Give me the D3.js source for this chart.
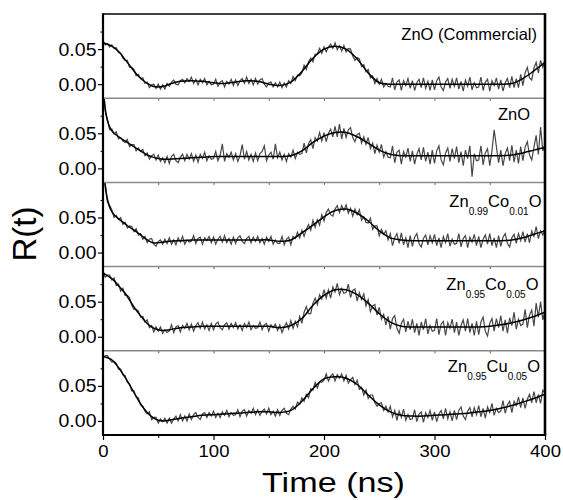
<!DOCTYPE html>
<html><head><meta charset="utf-8">
<script src="https://cdn.jsdelivr.net/npm/d3@7/dist/d3.min.js"></script>
<style>
body{margin:0;background:#fff}
text{fill:#000}
</style>
</head><body>
<svg id="chart" width="563" height="500"></svg>
<script>
// ---------------- data ----------------
const UNIT = 0.001; // all R(t) values below are given in units of 1e-3
const xTicks = [0, 100, 200, 300, 400];
const xMinorTicks = [50, 150, 250, 350];
const yTicks = [0, 0.05];
const yTickLabels = ["0.00", "0.05"];
const yMinorTicks = [0.025, 0.075];
const xTitle = "Time (ns)";
const yTitle = "R(t)";

// sample times of the measured traces (ns): one every 2 ns
const rawTime = d3.range(0, 401, 2);

// measured traces (R(t) x 1000), 0..400 ns
const rawCommercial = [
 62,56,58,53,56,51,52,45,44,37,
 34,34,24,24,21,12,14,8,9,1,
 3,-5,-1,0,-6,0,-7,-1,-7,1,
 -3,3,6,0,-1,5,7,2,8,4,
 10,1,7,-1,7,2,8,-1,4,-1,
 0,7,-3,3,5,-4,4,0,7,-2,
 6,-2,5,8,1,10,1,7,-1,8,
 0,6,8,0,-4,2,3,-4,2,-4,
 3,-5,2,-4,5,1,11,5,13,12,
 16,27,21,32,37,32,43,43,51,44,
 53,46,53,57,51,59,49,55,47,55,
 46,51,50,40,34,38,36,25,28,18,
 21,9,12,1,8,0,7,-4,1,-3,
 -4,9,-8,3,6,-9,5,-2,8,-6,
 5,-9,2,7,-5,9,-6,4,-9,6,
 -8,5,10,-4,-9,3,8,-6,7,-3,
 9,-7,4,-10,6,-3,10,-8,2,-5,
 -4,10,-9,3,7,-10,5,-2,9,-7,
 6,-10,2,8,-5,11,-5,8,-5,14,
 -2,16,24,9,6,23,31,16,34,24,
 33];

const rawZnO = [
 124,82,70,55,56,49,52,42,44,39,
 37,41,31,34,34,25,29,24,27,18,
 22,13,18,20,12,19,10,15,8,17,
 7,17,20,11,8,16,20,11,20,13,
 21,10,19,9,20,14,23,11,18,13,
 14,24,11,19,35,10,21,16,23,12,
 21,10,18,34,13,24,12,20,10,22,
 11,21,24,32,11,19,23,13,35,15,
 23,12,20,10,21,16,26,14,23,20,
 21,36,22,35,41,28,44,39,51,39,
 51,38,50,56,45,60,45,63,42,57,
 44,55,58,44,38,48,50,36,45,34,
 44,28,36,21,33,23,34,16,24,16,
 15,32,8,23,26,6,24,16,29,10,
 25,6,20,28,12,30,10,23,6,26,
 7,25,32,12,5,22,29,10,28,14,
 31,8,24,4,26,14,32,-12,21,11,
 12,32,5,22,28,4,25,55,31,8,
 26,4,21,29,11,33,9,26,7,31,
 11,30,38,19,12,30,47,20,59,25,
 34];

const rawCo001 = [
 128,99,72,67,61,50,53,47,50,40,
 43,35,38,37,30,34,25,27,19,23,
 14,19,20,12,9,16,18,12,19,13,
 21,12,18,11,21,15,23,12,18,15,
 16,24,13,20,22,12,21,17,23,14,
 22,12,19,23,15,24,14,20,12,22,
 13,21,24,16,13,20,23,14,22,16,
 23,14,20,12,22,16,23,12,18,13,
 13,23,11,19,22,11,23,20,29,21,
 32,23,33,40,32,46,36,47,39,54,
 45,57,62,54,52,62,67,57,67,60,
 68,56,63,52,62,54,61,46,51,43,
 42,49,33,38,38,24,33,26,31,18,
 27,10,21,27,13,28,11,21,7,24,
 9,22,27,13,8,20,25,11,24,14,
 26,10,21,7,23,14,27,9,19,12,
 13,27,8,20,24,7,22,15,26,10,
 23,7,19,25,12,27,10,21,7,24,
 9,22,27,13,8,21,26,13,27,17,
 30,15,27,14,31,23,37,20,31,25,
 34];

const rawCo005 = [
 93,85,88,88,81,84,73,75,65,69,
 59,59,56,45,39,39,37,28,29,21,
 24,13,16,7,14,8,14,5,10,6,
 8,17,6,14,16,7,16,12,19,10,
 18,8,16,20,12,21,11,17,9,19,
 10,18,21,13,10,17,20,11,19,13,
 20,11,17,9,19,13,21,10,16,12,
 13,21,10,17,19,8,17,13,18,9,
 17,6,14,20,11,23,12,22,14,29,
 19,35,43,33,33,48,55,46,60,54,
 67,55,67,55,71,64,76,60,69,62,
 63,75,56,66,68,51,63,53,61,44,
 53,36,44,46,31,42,25,32,17,29,
 11,26,30,12,5,19,25,7,22,10,
 25,6,19,2,21,10,26,4,16,8,
 9,26,3,18,22,2,20,12,25,6,
 21,2,16,24,8,26,6,19,2,22,
 3,21,28,8,1,19,26,8,26,13,
 30,8,24,5,27,16,35,11,25,16,
 18,39,13,31,38,15,48,28,50,24,
 37];

const rawCu005 = [
 90,93,93,88,84,85,82,74,74,66,
 65,55,53,43,43,34,33,23,21,14,
 10,13,2,5,5,-3,3,-1,4,-3,
 4,-3,3,7,0,9,0,7,0,10,
 2,9,12,5,2,10,12,5,12,7,
 14,5,11,5,13,8,15,6,12,8,
 9,16,6,14,16,7,15,11,18,9,
 16,8,14,17,10,18,9,14,7,16,
 8,15,18,11,9,17,21,17,27,24,
 33,28,38,33,46,44,55,47,56,55,
 58,67,57,64,67,57,66,61,67,57,
 65,54,59,62,52,58,45,48,37,44,
 32,37,37,26,21,25,26,15,21,13,
 21,6,15,1,14,5,17,1,9,2,
 3,16,-1,10,13,-2,12,5,15,1,
 13,-1,10,15,3,18,3,13,0,15,
 2,15,20,7,2,14,19,6,19,9,
 22,6,18,4,20,12,25,8,18,12,
 14,29,11,23,28,12,28,22,34,19,
 33,18,31,38,26,42,26,38,25,44,
 40];

// fitted curves (R(t) x 1000) at these times (ns)
const fitTime = [0,2,4,7,10,15,20,25,30,35,40,45,50,55,60,
 70,80,90,100,110,120,130,140,150,160,
 170,180,190,200,210,220,230,240,250,260,
 270,280,290,300,310,320,330,340,350,360,
 370,380,390,400];
const fitCommercial = [59,58,57,55,52,45,35,25,15,7,1,-3,-4,-3,0,
 4,5,4,2,1,3,5,4,0,-2,
 3,18,37,50,54,50,36,16,2,0,
 0,0,0,0,0,0,0,0,0,0,
 1,8,19,31];
const fitZnO = [120,85,68,56,50,44,39,34,29,24,19,16,14,13,13,
 14,15,16,17,17,17,17,17,17,17,
 18,25,37,46,51,51,45,36,26,20,
 18,18,18,18,18,18,18,18,18,18,
 19,22,26,30];
const fitCo001 = [130,95,76,61,54,47,41,35,30,24,18,14,14,15,16,
 17,18,18,18,18,18,18,18,18,16,
 18,28,39,51,60,62,56,45,31,21,
 18,17,17,17,17,17,17,17,17,17,
 18,21,26,31];
const fitCo005 = [91,89,87,84,80,71,62,50,38,28,19,13,10,9,10,
 13,14,15,15,15,15,15,15,15,13,
 16,26,45,59,67,67,60,48,33,21,
 15,14,14,14,14,14,14,14,15,17,
 20,24,29,35];
const fitCu005 = [92,91,90,88,84,74,62,49,35,22,12,5,1,0,1,
 4,6,8,9,10,11,12,13,13,12,
 15,28,46,60,63,61,52,37,23,13,
 8,7,7,8,9,10,11,13,15,18,
 22,27,32,38];

// panel labels (parts; sub = subscript)
const panelLabels = [
 [{t:"ZnO (Commercial)"}],
 [{t:"ZnO"}],
 [{t:"Zn"},{t:"0.99",sub:true},{t:"Co"},{t:"0.01",sub:true},{t:"O"}],
 [{t:"Zn"},{t:"0.95",sub:true},{t:"Co"},{t:"0.05",sub:true},{t:"O"}],
 [{t:"Zn"},{t:"0.95",sub:true},{t:"Cu"},{t:"0.05",sub:true},{t:"O"}]
];
const rawSeries = [rawCommercial, rawZnO, rawCo001, rawCo005, rawCu005];
const fitSeries = [fitCommercial, fitZnO, fitCo001, fitCo005, fitCu005];

// ---------------- layout ----------------
const FONT = "'Liberation Sans', Arimo, Arial, Helvetica, sans-serif";
const plotLeft = 103, plotRight = 545, plotTop = 14, plotBottom = 435;
const nP = rawSeries.length;
const ph = (plotBottom - plotTop) / nP;
const labelRight = [537, 530, 541.5, 538.5, 540];
const labelDy = [25.7, 21.8, 24.3, 23.4, 20.9];

const svg = d3.select("#chart");
const defs = svg.append("defs");
const x = d3.scaleLinear().domain([0, 400]).range([plotLeft, plotRight]);
const yDomain = [-0.02, 0.10];

for (let i = 0; i < nP; i++) {
  const top = plotTop + i * ph;
  const y = d3.scaleLinear().domain(yDomain).range([top + ph, top]);

  defs.append("clipPath").attr("id", "clip" + i)
    .append("rect").attr("x", plotLeft).attr("y", top)
    .attr("width", plotRight - plotLeft).attr("height", ph);

  const g = svg.append("g").attr("clip-path", `url(#clip${i})`);
  g.append("path").datum(rawSeries[i])
    .attr("fill", "none").attr("stroke", "#474747").attr("stroke-width", 1.2)
    .attr("stroke-linejoin", "miter")
    .attr("d", d3.line().x((d, j) => x(rawTime[j])).y(d => y(d * UNIT)));
  g.append("path").datum(fitSeries[i])
    .attr("fill", "none").attr("stroke", "#000").attr("stroke-width", 1.5)
    .attr("d", d3.line().curve(d3.curveCatmullRom.alpha(0.5))
      .x((d, j) => x(fitTime[j])).y(d => y(d * UNIT)));

  // y axis: major ticks with labels
  const ay = svg.append("g").attr("transform", `translate(${plotLeft},0)`)
    .call(d3.axisLeft(y).tickValues(yTicks).tickSize(5).tickPadding(1.5)
      .tickFormat((d, k) => yTickLabels[k]));
  ay.attr("font-family", FONT);
  ay.select(".domain").remove();
  ay.selectAll(".tick line").attr("stroke", "#000").attr("stroke-width", 1.2);
  ay.selectAll("text").attr("font-size", 17.5).attr("font-family", FONT)
    .attr("textLength", 38).attr("lengthAdjust", "spacingAndGlyphs").attr("dy", "0.34em");
  // minor ticks
  const ayMin = svg.append("g").attr("transform", `translate(${plotLeft},0)`)
    .call(d3.axisLeft(y).tickValues(yMinorTicks).tickSize(2.5).tickFormat(""));
  ayMin.select(".domain").remove();
  ayMin.selectAll(".tick line").attr("stroke", "#000").attr("stroke-width", 1);

  // panel label
  const lt = svg.append("text").attr("x", labelRight[i]).attr("y", top + labelDy[i])
    .attr("text-anchor", "end").attr("font-size", 16.5).attr("font-family", FONT);
  let shifted = false;
  panelLabels[i].forEach(p => {
    const ts = lt.append("tspan").text(p.t);
    if (p.sub) { ts.attr("font-size", 10).attr("dy", 8.3); shifted = true; }
    else if (shifted) { ts.attr("dy", -8.3); shifted = false; }
  });

  // separators with small ticks
  if (i > 0) {
    const sg = svg.append("g").attr("transform", `translate(0,${top})`)
      .call(d3.axisBottom(x).tickValues(xTicks.concat(xMinorTicks).filter(v => v > 0 && v < 400))
        .tickSize(2.5).tickFormat(""));
    sg.select(".domain").remove();
    sg.selectAll(".tick line").attr("stroke", "#555").attr("stroke-width", 1);
    svg.append("line").attr("x1", plotLeft).attr("x2", plotRight)
      .attr("y1", top).attr("y2", top).attr("stroke", "#8a8a8a").attr("stroke-width", 1.5);
  }
}

// bottom x axis
const ax = svg.append("g").attr("transform", `translate(0,${plotBottom})`)
  .call(d3.axisBottom(x).tickValues(xTicks).tickSize(5).tickPadding(5));
ax.attr("font-family", FONT);
ax.select(".domain").remove();
ax.selectAll(".tick line").attr("stroke", "#000").attr("stroke-width", 1.2);
ax.selectAll("text").attr("font-size", 16.5).attr("font-family", FONT)
  .each(function(d) {
    const s = String(d);
    d3.select(this).attr("textLength", s.length * 10.3).attr("lengthAdjust", "spacingAndGlyphs");
  });
const axMin = svg.append("g").attr("transform", `translate(0,${plotBottom})`)
  .call(d3.axisBottom(x).tickValues(xMinorTicks).tickSize(3).tickFormat(""));
axMin.select(".domain").remove();
axMin.selectAll(".tick line").attr("stroke", "#000").attr("stroke-width", 1);

// frame
svg.append("line").attr("x1", plotLeft).attr("x2", plotRight).attr("y1", plotTop).attr("y2", plotTop)
  .attr("stroke", "#000").attr("stroke-width", 1.5);
svg.append("line").attr("x1", plotLeft - 1).attr("x2", plotRight + 1.2).attr("y1", plotBottom).attr("y2", plotBottom)
  .attr("stroke", "#000").attr("stroke-width", 2.2);
svg.append("line").attr("x1", plotLeft).attr("x2", plotLeft).attr("y1", plotTop - 0.7).attr("y2", plotBottom)
  .attr("stroke", "#000").attr("stroke-width", 2.2);
svg.append("line").attr("x1", plotRight).attr("x2", plotRight).attr("y1", plotTop - 0.7).attr("y2", plotBottom)
  .attr("stroke", "#000").attr("stroke-width", 2.6);

// axis titles
svg.append("text").attr("x", 333.5).attr("y", 492).attr("text-anchor", "middle")
  .attr("font-family", FONT).attr("font-size", 27)
  .attr("textLength", 143).attr("lengthAdjust", "spacingAndGlyphs").text(xTitle);
svg.append("text").attr("transform", "translate(36,234) rotate(-90)").attr("text-anchor", "middle")
  .attr("font-family", FONT).attr("font-size", 33).text(yTitle);
</script>
</body></html>
